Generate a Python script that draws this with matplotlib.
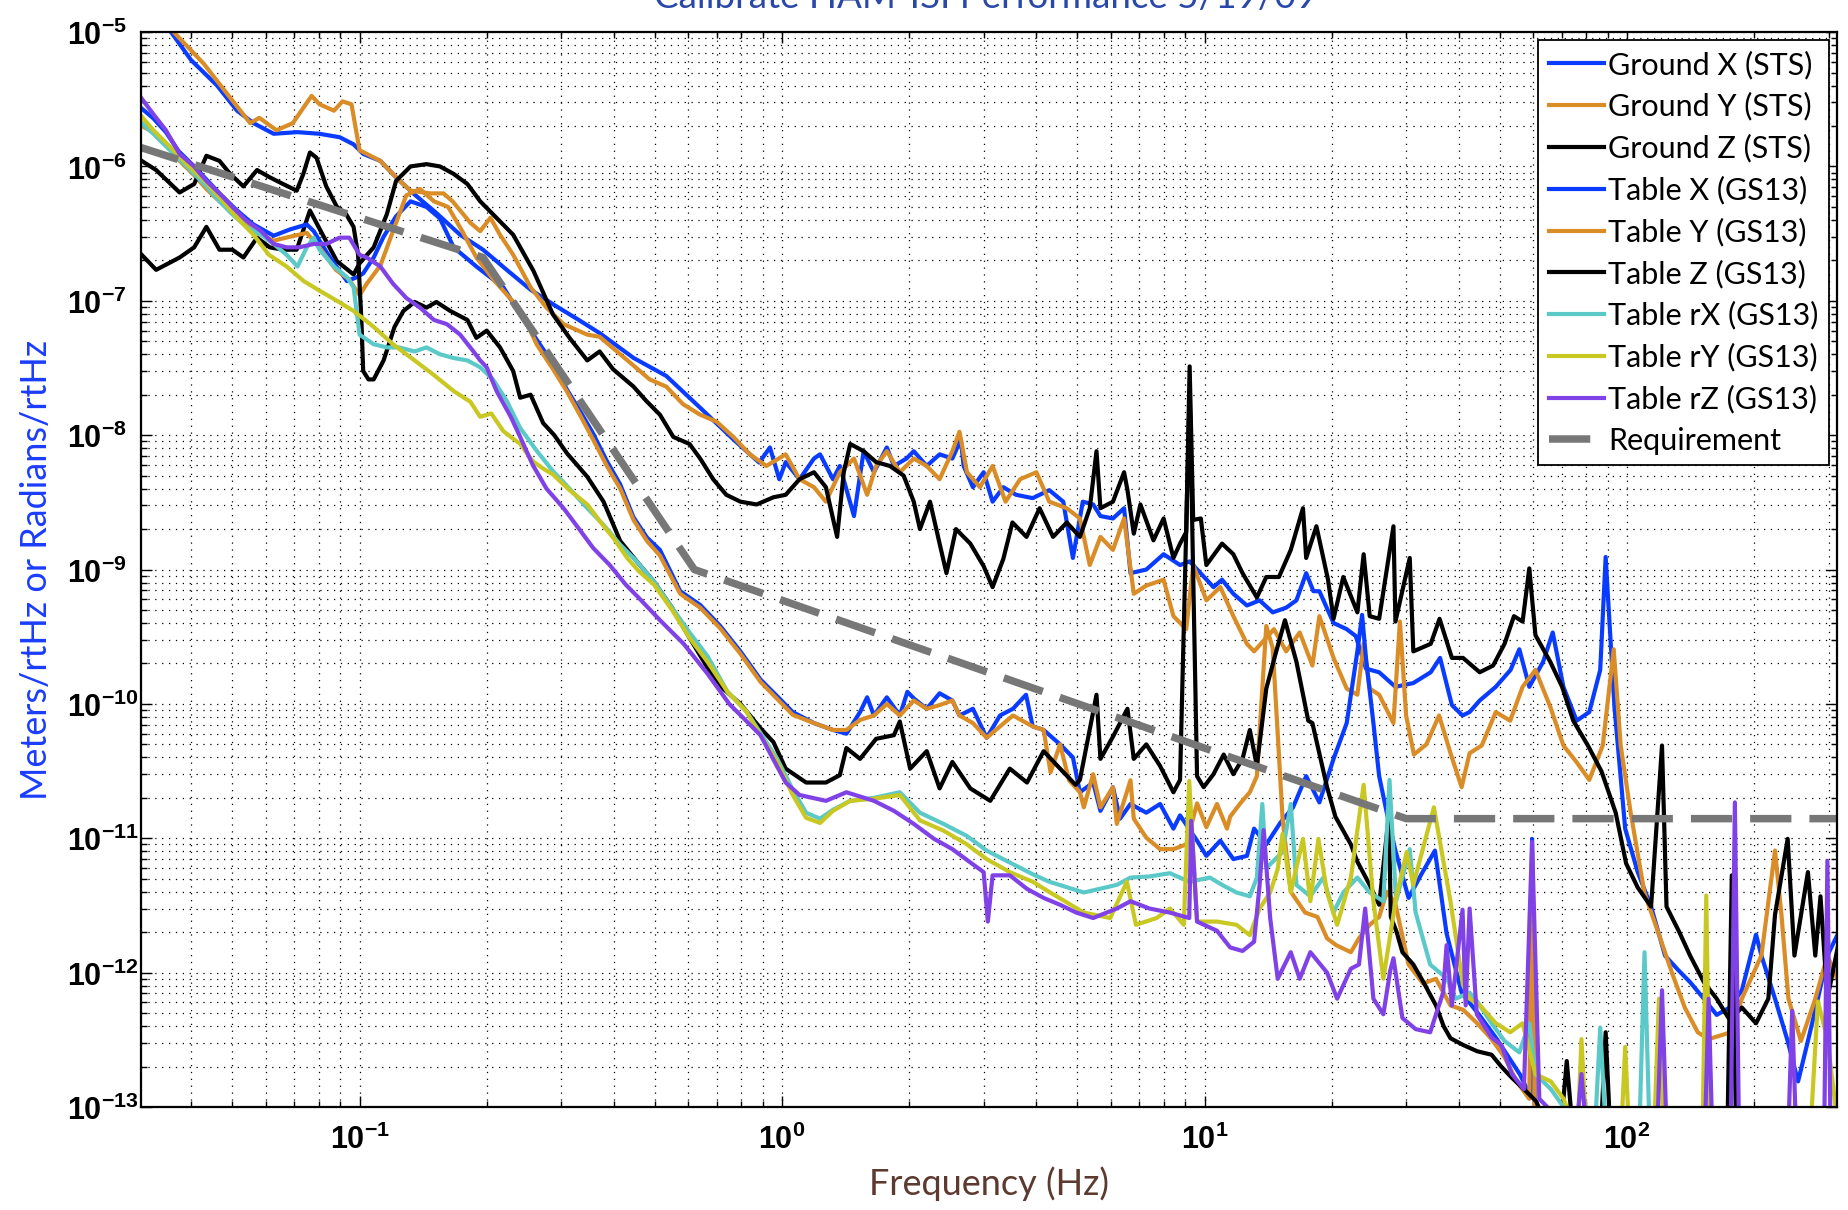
import numpy as np
import matplotlib
matplotlib.use("Agg")
import matplotlib.pyplot as plt
from matplotlib.ticker import LogLocator, FixedLocator, FuncFormatter, NullFormatter

# (frequency [Hz], amplitude spectral density)

ground_x = [(0.0347, 1.27e-5), (0.0358, 1.0e-5), (0.0399, 6.2e-6), (0.0460, 4.0e-6), (0.0513, 2.6e-6),
            (0.0561, 2.1e-6), (0.0626, 1.75e-6), (0.0713, 1.8e-6), (0.0803, 1.75e-6), (0.0897, 1.65e-6),
            (0.0968, 1.46e-6), (0.102, 1.24e-6), (0.112, 1.1e-6), (0.122, 8.3e-7), (0.134, 6.3e-7),
            (0.152, 4.5e-7), (0.173, 3.1e-7), (0.196, 2.4e-7), (0.223, 1.7e-7), (0.254, 1.21e-7),
            (0.289, 9.3e-8), (0.328, 7.3e-8), (0.370, 5.75e-8), (0.445, 3.76e-8), (0.532, 2.76e-8),
            (0.640, 1.6e-8), (0.767, 9.3e-9), (0.883, 6.25e-9), (0.936, 8.1e-9), (0.985, 4.7e-9),
            (1.02, 6.3e-9), (1.10, 4.7e-9), (1.19, 6.7e-9), (1.23, 7.2e-9), (1.32, 4.7e-9),
            (1.37, 5.9e-9), (1.48, 2.5e-9), (1.56, 7.6e-9), (1.65, 5.3e-9), (1.77, 8.1e-9),
            (1.84, 5.9e-9), (1.97, 6.7e-9), (2.05, 7.6e-9), (2.20, 5.9e-9), (2.36, 7.2e-9),
            (2.53, 6.7e-9), (2.65, 9.3e-9), (2.69, 5.9e-9), (2.83, 4.1e-9), (3.0, 5.3e-9),
            (3.15, 3.2e-9), (3.34, 4.1e-9), (3.58, 3.6e-9), (3.92, 3.4e-9), (4.29, 3.9e-9),
            (4.63, 3.2e-9), (4.88, 1.22e-9), (5.15, 3.2e-9), (5.45, 3.05e-9), (5.67, 2.5e-9),
            (6.07, 2.4e-9), (6.45, 2.86e-9), (6.68, 9.4e-10), (7.28, 1.0e-9), (8.0, 1.3e-9),
            (8.75, 1.08e-9), (9.22, 1.15e-9), (10.5, 7.4e-10), (11.0, 8.4e-10), (11.7, 6.6e-10),
            (12.6, 5.4e-10), (13.5, 5.9e-10), (14.5, 4.8e-10), (15.6, 5.2e-10), (16.5, 5.9e-10),
            (17.4, 9.4e-10), (18.1, 6.9e-10), (18.7, 6.9e-10), (20.2, 4.0e-10), (21.7, 3.6e-10),
            (22.8, 3.2e-10), (24.1, 1.83e-10), (25.9, 1.72e-10), (28.3, 1.34e-10), (31.2, 1.43e-10),
            (34.3, 1.72e-10), (36.1, 2.2e-10), (38.5, 9.8e-11), (40.8, 8.2e-11), (42.4, 8.7e-11),
            (44.8, 1.06e-10), (48.9, 1.34e-10), (53.0, 1.79e-10), (55.6, 2.55e-10), (58.7, 1.34e-10),
            (63.3, 2.06e-10), (66.7, 3.4e-10), (70.7, 1.34e-10), (76.0, 7.5e-11), (81.4, 8.7e-11),
            (86.4, 1.79e-10), (89.0, 1.24e-9), (93.4, 9.4e-11), (99.0, 1.18e-11), (106, 5.6e-12),
            (114, 3.1e-12), (123, 1.34e-12), (132, 1.05e-12), (141, 8.5e-13), (152, 6.4e-13),
            (163, 4.85e-13), (175, 5.5e-13), (187, 7.4e-13), (202, 1.92e-12), (208, 1.34e-12),
            (224, 6.4e-13), (240, 3.1e-13), (254, 1.55e-13), (268, 3.1e-13), (283, 6.4e-13),
            (298, 1.34e-12), (316, 1.96e-12)]

ground_y = [(0.0347, 1.27e-5), (0.0363, 1.0e-5), (0.0428, 5.8e-6), (0.0492, 3.3e-6), (0.0551, 2.1e-6),
            (0.0579, 2.3e-6), (0.0636, 1.86e-6), (0.0695, 2.1e-6), (0.0770, 3.35e-6), (0.0804, 2.9e-6),
            (0.0870, 2.6e-6), (0.0911, 3.05e-6), (0.0957, 2.9e-6), (0.100, 1.32e-6), (0.112, 1.1e-6),
            (0.122, 8.3e-7), (0.132, 6.6e-7), (0.147, 6.3e-7), (0.158, 6.3e-7), (0.166, 5.5e-7),
            (0.183, 3.8e-7), (0.193, 3.3e-7), (0.204, 4.15e-7), (0.215, 3.1e-7), (0.231, 2.2e-7),
            (0.254, 1.26e-7), (0.277, 8.9e-8), (0.304, 6.7e-8), (0.346, 5.6e-8), (0.370, 5.4e-8),
            (0.445, 3.3e-8), (0.486, 2.6e-8), (0.532, 2.3e-8), (0.583, 1.7e-8), (0.640, 1.42e-8),
            (0.700, 1.26e-8), (0.767, 9.7e-9), (0.839, 7.2e-9), (0.918, 5.9e-9), (1.02, 7.2e-9),
            (1.10, 4.7e-9), (1.19, 4.1e-9), (1.27, 3.2e-9), (1.37, 5.3e-9), (1.48, 6.7e-9),
            (1.59, 3.6e-9), (1.67, 5.9e-9), (1.77, 7.6e-9), (1.90, 5.3e-9), (2.05, 6.7e-9),
            (2.20, 5.9e-9), (2.36, 4.7e-9), (2.53, 7.6e-9), (2.63, 1.06e-8), (2.74, 5.3e-9),
            (2.94, 4.1e-9), (3.15, 5.9e-9), (3.38, 3.2e-9), (3.66, 4.7e-9), (4.00, 5.3e-9),
            (4.29, 3.2e-9), (4.72, 2.86e-9), (5.07, 2.4e-9), (5.35, 1.08e-9), (5.67, 1.75e-9),
            (6.07, 1.4e-9), (6.45, 2.4e-9), (6.8, 6.6e-10), (7.28, 7.6e-10), (8.0, 8.4e-10),
            (8.44, 4.5e-10), (9.05, 3.6e-10), (9.4, 1.08e-9), (10.1, 5.9e-10), (10.9, 7.4e-10),
            (11.7, 4.5e-10), (12.6, 2.8e-10), (13.1, 2.46e-10), (14.6, 3.6e-10), (15.6, 2.46e-10),
            (16.8, 3.4e-10), (18.0, 1.93e-10), (18.7, 4.5e-10), (20.2, 2.2e-10), (21.7, 1.3e-10),
            (23.0, 1.17e-10), (23.8, 2.8e-10), (24.6, 1.3e-10), (25.9, 1.17e-10), (28.0, 7.2e-11),
            (29.0, 4.1e-10), (30.0, 8.2e-11), (31.3, 4.2e-11), (33.5, 5.0e-11), (35.9, 8.2e-11),
            (38.3, 4.2e-11), (40.6, 2.4e-11), (42.4, 4.3e-11), (45.3, 4.9e-11), (48.9, 8.7e-11),
            (52.9, 7.5e-11), (56.6, 1.34e-10), (60.7, 1.79e-10), (65.9, 9.4e-11), (70.7, 4.9e-11),
            (75.9, 3.7e-11), (81.4, 2.72e-11), (87.6, 4.9e-11), (93.0, 2.55e-10), (96.6, 4.9e-11),
            (102, 1.55e-11), (110, 3.9e-12), (119, 1.92e-12), (128, 9.8e-13), (137, 5.5e-13),
            (147, 3.6e-13), (156, 3.2e-13), (176, 3.6e-13), (187, 6.4e-13), (208, 1.34e-12),
            (224, 8.1e-12), (232, 2.7e-12), (241, 6.4e-13), (258, 3.1e-13), (279, 6.4e-13),
            (298, 1.34e-12), (316, 8.7e-13)]

ground_z = [(0.0305, 2.2e-7), (0.0330, 1.7e-7), (0.0375, 2.1e-7), (0.0406, 2.5e-7), (0.0434, 3.55e-7),
            (0.0466, 2.4e-7), (0.0500, 2.4e-7), (0.0531, 2.1e-7), (0.0572, 2.95e-7), (0.0613, 2.5e-7),
            (0.0659, 2.4e-7), (0.0710, 2.4e-7), (0.0763, 4.7e-7), (0.0818, 3.1e-7), (0.0884, 1.97e-7),
            (0.0968, 1.57e-7), (0.100, 1.9e-7), (0.108, 2.5e-7), (0.116, 4.4e-7), (0.122, 7.8e-7),
            (0.132, 1.0e-6), (0.144, 1.04e-6), (0.155, 1.0e-6), (0.167, 8.8e-7), (0.180, 7.4e-7),
            (0.193, 5.5e-7), (0.207, 4.4e-7), (0.231, 3.1e-7), (0.258, 1.67e-7), (0.287, 7.9e-8),
            (0.314, 5.3e-8), (0.346, 3.6e-8), (0.370, 4.2e-8), (0.398, 3.1e-8), (0.445, 2.3e-8),
            (0.477, 1.8e-8), (0.514, 1.42e-8), (0.553, 9.7e-9), (0.604, 8.6e-9), (0.640, 6.7e-9),
            (0.687, 4.7e-9), (0.738, 3.6e-9), (0.797, 3.2e-9), (0.871, 3.05e-9), (0.954, 3.45e-9),
            (1.02, 3.6e-9), (1.10, 4.7e-9), (1.19, 5.3e-9), (1.27, 4.1e-9), (1.35, 1.75e-9),
            (1.40, 5.3e-9), (1.45, 8.6e-9), (1.56, 7.6e-9), (1.67, 6.3e-9), (1.80, 5.9e-9),
            (1.94, 5.0e-9), (2.05, 3.2e-9), (2.12, 2.0e-9), (2.24, 3.2e-9), (2.36, 1.56e-9),
            (2.45, 9.4e-10), (2.58, 2.0e-9), (2.79, 1.56e-9), (3.0, 1.06e-9), (3.15, 7.4e-10),
            (3.34, 1.2e-9), (3.51, 2.24e-9), (3.79, 1.75e-9), (4.07, 2.86e-9), (4.38, 1.75e-9),
            (4.72, 2.24e-9), (5.07, 1.75e-9), (5.35, 2.86e-9), (5.55, 7.6e-9), (5.67, 2.86e-9),
            (6.07, 3.2e-9), (6.45, 5.3e-9), (6.57, 3.9e-9), (6.8, 1.85e-9), (7.05, 3.05e-9),
            (7.57, 1.65e-9), (8.0, 2.4e-9), (8.44, 1.22e-9), (8.75, 1.56e-9), (9.05, 1.9e-9),
            (9.22, 3.25e-8), (9.4, 2.34e-9), (9.8, 2.4e-9), (10.1, 1.08e-9), (11.0, 1.56e-9),
            (11.7, 1.3e-9), (12.3, 9.4e-10), (13.3, 6.2e-10), (14.0, 8.8e-10), (15.0, 8.8e-10),
            (16.0, 1.4e-9), (17.1, 2.86e-9), (17.4, 1.22e-9), (18.4, 2.1e-9), (19.6, 8.4e-10),
            (20.2, 4.3e-10), (21.3, 8.8e-10), (23.0, 4.8e-10), (23.8, 1.3e-9), (24.6, 4.5e-10),
            (25.9, 4.3e-10), (28.0, 2.1e-9), (28.3, 4.1e-10), (30.6, 1.22e-9), (31.2, 2.46e-10),
            (34.3, 2.8e-10), (36.0, 4.3e-10), (38.5, 2.2e-10), (40.9, 2.2e-10), (44.8, 1.72e-10),
            (48.2, 1.93e-10), (51.3, 2.8e-10), (54.0, 4.5e-10), (56.6, 4.1e-10), (58.7, 1.02e-9),
            (60.7, 3.25e-10), (65.8, 2.06e-10), (70.2, 1.34e-10), (74.6, 7.5e-11), (80.8, 4.9e-11),
            (87.0, 3.15e-11), (94.0, 1.55e-11), (99.5, 6.5e-12), (106, 4.3e-12), (114, 3.1e-12),
            (121, 4.9e-11), (124, 3.1e-12), (133, 2.0e-12), (141, 1.34e-12), (152, 8.5e-13),
            (163, 6.4e-13), (175, 4.45e-13), (187, 5.5e-13), (202, 4.2e-13), (216, 6.4e-13),
            (224, 2.7e-12), (240, 9.9e-12), (249, 1.34e-12), (268, 5.6e-12), (279, 1.34e-12),
            (287, 3.7e-12), (298, 6.4e-13), (316, 1.6e-12)]

table_x = [(0.0305, 2.7e-6), (0.0325, 2.28e-6), (0.0348, 1.8e-6), (0.0373, 1.3e-6), (0.0406, 1.0e-6),
           (0.0434, 8.0e-7), (0.0466, 6.3e-7), (0.0509, 4.8e-7), (0.0561, 3.7e-7), (0.0626, 3.05e-7),
           (0.0685, 3.4e-7), (0.0750, 3.7e-7), (0.0779, 3.3e-7), (0.0804, 2.8e-7), (0.0851, 2.1e-7),
           (0.0934, 1.4e-7), (0.0986, 1.5e-7), (0.102, 1.6e-7), (0.108, 2.1e-7), (0.114, 3.0e-7),
           (0.122, 4.25e-7), (0.132, 5.5e-7), (0.144, 5.0e-7), (0.155, 4.1e-7), (0.167, 2.5e-7),
           (0.189, 1.8e-7), (0.219, 1.26e-7), (0.240, 7.9e-8), (0.263, 5.1e-8), (0.287, 3.4e-8),
           (0.310, 2.17e-8), (0.333, 1.5e-8), (0.357, 1.03e-8), (0.385, 6.4e-9), (0.414, 4.3e-9),
           (0.445, 2.45e-9), (0.479, 1.73e-9), (0.514, 1.4e-9), (0.574, 6.9e-10), (0.640, 5.45e-10),
           (0.714, 3.8e-10), (0.797, 2.46e-10), (0.889, 1.52e-10), (0.985, 1.1e-10), (1.06, 8.7e-11),
           (1.19, 7.2e-11), (1.32, 6.4e-11), (1.42, 6.0e-11), (1.53, 8.7e-11), (1.59, 1.12e-10),
           (1.65, 8.2e-11), (1.77, 1.12e-10), (1.90, 8.2e-11), (1.98, 1.23e-10), (2.05, 1.1e-10),
           (2.20, 9.2e-11), (2.36, 1.2e-10), (2.53, 1.06e-10), (2.63, 8.2e-11), (2.83, 9.2e-11),
           (3.05, 5.6e-11), (3.28, 8.2e-11), (3.52, 9.2e-11), (3.78, 1.17e-10), (3.92, 6.8e-11),
           (4.16, 6.4e-11), (4.55, 5.0e-11), (4.88, 4.0e-11), (5.07, 2.2e-11), (5.45, 2.6e-11),
           (5.67, 1.6e-11), (6.07, 2.4e-11), (6.31, 1.4e-11), (6.68, 1.8e-11), (7.28, 1.55e-11),
           (7.85, 1.8e-11), (8.44, 1.18e-11), (8.75, 1.48e-11), (9.6, 9.6e-12), (10.1, 7.4e-12),
           (10.9, 9.6e-12), (11.7, 7.0e-12), (12.6, 7.4e-12), (13.1, 1.18e-11), (14.0, 9.0e-12),
           (15.1, 1.3e-11), (16.2, 1.7e-11), (17.4, 2.9e-11), (18.7, 1.85e-11), (20.2, 3.9e-11),
           (21.7, 7.2e-11), (23.0, 2.46e-10), (23.6, 4.6e-10), (24.1, 2.2e-10), (25.1, 7.2e-11),
           (25.9, 2.9e-11), (27.0, 1.55e-11), (28.3, 8.1e-12), (30.4, 3.6e-12), (32.6, 5.4e-12),
           (35.1, 8.1e-12), (37.4, 1.96e-12), (40.6, 7.1e-13), (44.9, 4.75e-13), (49.2, 3.2e-13),
           (55.9, 1.73e-13), (59.0, 1.2e-13), (59.6, 9.9e-12), (60.5, 1.0e-13), (66, 7e-14),
           (113, 6e-14), (316, 6e-14)]

table_y = [(0.0305, 2.0e-6), (0.0325, 1.8e-6), (0.0348, 1.46e-6), (0.0373, 1.12e-6), (0.0406, 8.6e-7),
           (0.0434, 6.8e-7), (0.0466, 5.5e-7), (0.0509, 4.5e-7), (0.0561, 3.3e-7), (0.0626, 2.8e-7),
           (0.0685, 3.0e-7), (0.0750, 3.2e-7), (0.0806, 2.46e-7), (0.0879, 1.7e-7), (0.0943, 1.45e-7),
           (0.100, 1.1e-7), (0.104, 1.34e-7), (0.112, 1.83e-7), (0.120, 3.3e-7), (0.129, 6.1e-7),
           (0.139, 6.8e-7), (0.150, 5.5e-7), (0.162, 5.0e-7), (0.175, 3.3e-7), (0.189, 2.1e-7),
           (0.209, 1.4e-7), (0.240, 8.6e-8), (0.263, 4.7e-8), (0.287, 3.1e-8), (0.310, 2.1e-8),
           (0.333, 1.4e-8), (0.357, 9.3e-9), (0.385, 5.9e-9), (0.414, 4.0e-9), (0.445, 2.34e-9),
           (0.479, 1.63e-9), (0.514, 1.27e-9), (0.574, 6.6e-10), (0.640, 5.2e-10), (0.714, 3.65e-10),
           (0.797, 2.36e-10), (0.889, 1.46e-10), (0.985, 1.05e-10), (1.06, 8.3e-11), (1.19, 7.2e-11),
           (1.32, 6.4e-11), (1.42, 6.4e-11), (1.53, 7.6e-11), (1.65, 8.2e-11), (1.77, 1.0e-10),
           (1.90, 8.2e-11), (2.05, 1.06e-10), (2.20, 9.2e-11), (2.36, 9.8e-11), (2.53, 1.06e-10),
           (2.63, 8.2e-11), (2.83, 7.2e-11), (3.05, 5.6e-11), (3.28, 6.8e-11), (3.52, 8.2e-11),
           (3.92, 6.8e-11), (4.16, 6.4e-11), (4.32, 3.1e-11), (4.55, 5.0e-11), (4.78, 2.7e-11),
           (5.07, 2.2e-11), (5.18, 1.7e-11), (5.45, 3.0e-11), (5.67, 1.7e-11), (6.07, 2.4e-11),
           (6.2, 1.28e-11), (6.68, 2.7e-11), (6.8, 1.4e-11), (7.28, 1.01e-11), (7.85, 8.3e-12),
           (8.44, 8.3e-12), (9.05, 9.0e-12), (9.6, 1.82e-11), (10.1, 1.21e-11), (10.7, 1.8e-11),
           (11.3, 1.18e-11), (11.5, 1.45e-11), (12.2, 1.85e-11), (12.8, 2.2e-11), (13.3, 2.9e-11),
           (13.6, 9.0e-11), (14.0, 3.8e-10), (14.5, 2.6e-10), (14.9, 6.0e-11), (15.3, 1.4e-11),
           (16.0, 4.0e-12), (17.3, 2.8e-12), (18.5, 2.6e-12), (19.5, 1.8e-12), (20.5, 1.6e-12),
           (22.2, 1.42e-12), (23.2, 1.8e-12), (24.6, 2.27e-12), (25.9, 2.6e-12), (27.0, 4.0e-12),
           (28.3, 3.25e-12), (30.4, 1.15e-12), (32.9, 8.3e-13), (35.3, 9.0e-13), (38.2, 5.7e-13),
           (40.9, 5.3e-13), (44.2, 4.2e-13), (47.8, 3.2e-13), (51.3, 2.35e-13), (54.8, 1.55e-13),
           (58.7, 1.15e-13), (59.6, 7.8e-12), (60.5, 8.5e-14), (113, 6.5e-14), (316, 6.5e-14)]

table_z = [(0.0305, 1.1e-6), (0.0330, 9.4e-7), (0.0375, 6.4e-7), (0.0406, 7.4e-7), (0.0434, 1.2e-6),
           (0.0466, 1.1e-6), (0.0494, 8.8e-7), (0.0531, 7.1e-7), (0.0572, 9.4e-7), (0.0613, 8.3e-7),
           (0.0659, 7.4e-7), (0.0710, 6.6e-7), (0.0736, 8.8e-7), (0.0763, 1.27e-6), (0.0791, 1.16e-6),
           (0.0834, 7.1e-7), (0.0884, 5.0e-7), (0.0930, 4.4e-7), (0.0968, 3.55e-7), (0.0992, 2.2e-7),
           (0.101, 7.2e-8), (0.102, 3.0e-8), (0.105, 2.6e-8), (0.108, 2.6e-8), (0.114, 3.6e-8),
           (0.121, 6.4e-8), (0.127, 8.4e-8), (0.135, 9.8e-8), (0.144, 8.9e-8), (0.152, 9.8e-8),
           (0.164, 8.4e-8), (0.180, 7.2e-8), (0.189, 5.3e-8), (0.200, 6.0e-8), (0.215, 4.5e-8),
           (0.231, 3.0e-8), (0.240, 1.9e-8), (0.254, 2.0e-8), (0.272, 1.23e-8), (0.289, 1.0e-8),
           (0.310, 7.3e-9), (0.346, 4.9e-9), (0.378, 3.2e-9), (0.414, 1.63e-9), (0.453, 1.15e-9),
           (0.498, 8.1e-10), (0.549, 5.2e-10), (0.604, 3.1e-10), (0.666, 1.86e-10), (0.725, 1.3e-10),
           (0.797, 1.0e-10), (0.889, 6.6e-11), (0.954, 5.2e-11), (1.02, 3.3e-11), (1.14, 2.6e-11),
           (1.27, 2.6e-11), (1.37, 2.95e-11), (1.42, 4.7e-11), (1.53, 3.9e-11), (1.67, 5.5e-11),
           (1.84, 5.85e-11), (1.90, 7.4e-11), (2.01, 3.3e-11), (2.20, 4.45e-11), (2.36, 2.35e-11),
           (2.53, 3.7e-11), (2.79, 2.35e-11), (3.11, 1.9e-11), (3.46, 3.3e-11), (3.80, 2.6e-11),
           (4.16, 4.45e-11), (4.55, 3.3e-11), (4.95, 2.5e-11), (5.07, 2.72e-11), (5.55, 1.17e-10),
           (5.67, 3.9e-11), (6.07, 5.7e-11), (6.57, 9.2e-11), (6.8, 3.9e-11), (7.28, 5.0e-11),
           (7.85, 3.45e-11), (8.44, 2.2e-11), (8.75, 2.72e-11), (9.22, 2.17e-8), (9.6, 2.9e-11),
           (9.95, 2.4e-11), (10.5, 3.0e-11), (11.1, 4.2e-11), (11.7, 3.0e-11), (12.3, 3.9e-11),
           (12.8, 6.4e-11), (13.3, 3.45e-11), (14.0, 1.3e-10), (14.8, 2.5e-10), (15.5, 4.2e-10),
           (16.5, 2.06e-10), (17.6, 7.5e-11), (18.0, 7.2e-11), (19.5, 2.4e-11), (20.4, 1.45e-11),
           (22.2, 9.0e-12), (23.0, 6.7e-12), (24.6, 4.5e-12), (25.9, 3.2e-12), (27.3, 1.48e-11),
           (27.6, 2.6e-12), (28.5, 2.0e-12), (29.4, 1.42e-12), (31.2, 1.15e-12), (32.9, 8.6e-13),
           (35.3, 5.7e-13), (36.8, 4.0e-13), (38.2, 3.25e-13), (40.9, 2.9e-13), (44.2, 2.6e-13),
           (47.8, 2.45e-13), (50.4, 2.0e-13), (53.4, 1.65e-13), (57.0, 1.36e-13), (61.0, 1.1e-13),
           (63.5, 8e-14), (70, 8e-14), (72, 2.2e-13), (74, 8e-14), (87, 8e-14), (89, 3.6e-13),
           (91, 8e-14), (173, 8e-14), (177, 5.3e-12), (181, 8e-14), (316, 8e-14)]

table_rx = [(0.0305, 2.1e-6), (0.0325, 1.75e-6), (0.0356, 1.32e-6), (0.0390, 1.0e-6), (0.0434, 7.1e-7),
            (0.0466, 5.5e-7), (0.0500, 4.4e-7), (0.0540, 3.55e-7), (0.0585, 3.1e-7), (0.0626, 2.65e-7),
            (0.0672, 2.2e-7), (0.0713, 1.8e-7), (0.0750, 2.5e-7), (0.0779, 2.95e-7), (0.0804, 2.4e-7),
            (0.0870, 1.8e-7), (0.0934, 1.5e-7), (0.0968, 1.26e-7), (0.100, 5.6e-8), (0.108, 4.75e-8),
            (0.116, 4.5e-8), (0.124, 4.5e-8), (0.135, 4.2e-8), (0.144, 4.5e-8), (0.155, 4.0e-8),
            (0.167, 3.75e-8), (0.180, 3.6e-8), (0.193, 3.2e-8), (0.207, 2.6e-8), (0.223, 1.8e-8),
            (0.240, 1.13e-8), (0.263, 7.6e-9), (0.287, 5.4e-9), (0.314, 4.0e-9), (0.346, 2.86e-9),
            (0.378, 2.15e-9), (0.414, 1.53e-9), (0.453, 1.15e-9), (0.498, 8.1e-10), (0.549, 5.2e-10),
            (0.604, 3.4e-10), (0.666, 2.27e-10), (0.743, 1.23e-10), (0.823, 8.8e-11), (0.896, 5.85e-11),
            (0.974, 3.9e-11), (1.06, 2.3e-11), (1.14, 1.55e-11), (1.23, 1.4e-11), (1.32, 1.63e-11),
            (1.45, 1.9e-11), (1.65, 2.0e-11), (1.90, 2.2e-11), (2.12, 1.55e-11), (2.41, 1.28e-11),
            (2.74, 1.04e-11), (3.05, 8.1e-12), (3.46, 6.6e-12), (3.92, 5.4e-12), (4.29, 4.75e-12),
            (5.18, 3.95e-12), (6.2, 4.5e-12), (6.68, 5.1e-12), (7.41, 5.2e-12), (8.28, 5.5e-12),
            (9.2, 4.75e-12), (10.3, 5.1e-12), (11.0, 4.5e-12), (11.9, 3.95e-12), (12.8, 3.7e-12),
            (13.3, 5.1e-12), (13.7, 1.8e-11), (14.0, 6.0e-12), (15.3, 7.9e-12), (16.0, 1.8e-11),
            (16.5, 4.5e-12), (17.8, 3.7e-12), (19.1, 5.1e-12), (20.2, 2.8e-12), (21.3, 3.95e-12),
            (23.0, 5.1e-12), (24.6, 3.95e-12), (26.5, 3.4e-12), (27.4, 2.72e-11), (28.4, 3.4e-12),
            (30.6, 8.3e-12), (31.6, 2.8e-12), (34.2, 1.15e-12), (37.5, 9.0e-13), (39.3, 6.4e-13),
            (42.4, 7.1e-13), (44.2, 6.1e-13), (47.8, 4.2e-13), (51.3, 3.1e-13), (55.6, 2.55e-13),
            (58.7, 4.2e-13), (60.7, 1.76e-13), (66.0, 1.36e-13), (70.8, 1.0e-13), (77, 7e-14),
            (84, 7e-14), (86.4, 3.9e-13), (89, 7e-14), (107, 7e-14), (110, 1.42e-12), (113, 7e-14),
            (316, 7e-14)]

table_ry = [(0.0305, 2.35e-6), (0.0325, 1.86e-6), (0.0356, 1.4e-6), (0.0390, 1.04e-6), (0.0430, 7.8e-7),
            (0.0466, 5.9e-7), (0.0513, 4.15e-7), (0.0561, 3.1e-7), (0.0610, 2.2e-7), (0.0672, 1.8e-7),
            (0.0738, 1.4e-7), (0.0804, 1.19e-7), (0.0884, 1.0e-7), (0.0968, 8.4e-8), (0.108, 6.4e-8),
            (0.120, 4.75e-8), (0.135, 3.6e-8), (0.150, 2.8e-8), (0.167, 2.13e-8), (0.183, 1.77e-8),
            (0.193, 1.37e-8), (0.205, 1.45e-8), (0.219, 1.07e-8), (0.240, 8.6e-9), (0.257, 6.4e-9),
            (0.273, 5.6e-9), (0.287, 5.1e-9), (0.314, 3.9e-9), (0.346, 3.05e-9), (0.370, 2.3e-9),
            (0.398, 1.73e-9), (0.430, 1.22e-9), (0.457, 9.8e-10), (0.498, 7.7e-10), (0.549, 5.0e-10),
            (0.604, 3.1e-10), (0.666, 2.06e-10), (0.743, 1.23e-10), (0.823, 8.8e-11), (0.889, 5.85e-11),
            (0.974, 3.7e-11), (1.06, 2.1e-11), (1.14, 1.42e-11), (1.23, 1.3e-11), (1.32, 1.6e-11),
            (1.45, 1.9e-11), (1.65, 1.97e-11), (1.90, 2.1e-11), (2.12, 1.36e-11), (2.41, 1.14e-11),
            (2.74, 9.0e-12), (3.05, 7.0e-12), (3.46, 5.6e-12), (3.92, 4.75e-12), (4.31, 3.95e-12),
            (5.18, 2.8e-12), (5.98, 2.55e-12), (6.55, 4.75e-12), (6.88, 2.27e-12), (7.7, 2.55e-12),
            (8.28, 3.0e-12), (8.93, 2.27e-12), (9.2, 2.67e-11), (9.6, 2.4e-12), (10.7, 2.4e-12),
            (11.9, 2.27e-12), (12.8, 1.9e-12), (13.5, 3.0e-12), (14.3, 3.95e-12), (14.9, 5.9e-12),
            (15.3, 1.08e-11), (16.0, 3.95e-12), (17.1, 9.9e-12), (17.8, 3.4e-12), (18.6, 9.9e-12),
            (19.5, 3.95e-12), (20.6, 2.27e-12), (22.2, 5.1e-12), (23.8, 2.5e-11), (25.1, 3.4e-12),
            (26.5, 9.0e-13), (28.4, 3.6e-12), (30.1, 7.9e-12), (31.2, 4.5e-12), (34.9, 1.7e-11),
            (38.2, 3.4e-12), (40.9, 8.1e-13), (42.4, 6.4e-13), (44.9, 5.7e-13), (48.9, 4.2e-13),
            (52.9, 3.6e-13), (56.6, 4.2e-13), (60.7, 1.76e-13), (66, 1.55e-13), (70.8, 1.15e-13),
            (75, 7e-14), (76.5, 7e-14), (78, 3.2e-13), (80, 7e-14), (97, 7e-14), (99, 2.8e-13),
            (101, 7e-14), (116, 7e-14), (119, 6.4e-13), (122, 7e-14), (151, 7e-14), (154, 3.75e-12),
            (157, 7e-14), (272, 7e-14), (283, 6.1e-13), (298, 3.2e-13), (316, 7e-14)]

table_rz = [(0.0305, 3.2e-6), (0.0325, 2.45e-6), (0.0348, 1.86e-6), (0.0375, 1.24e-6), (0.0406, 1.0e-6),
            (0.0434, 7.8e-7), (0.0466, 6.3e-7), (0.0500, 5.0e-7), (0.0540, 3.95e-7), (0.0585, 3.3e-7),
            (0.0626, 2.65e-7), (0.0672, 2.5e-7), (0.0720, 2.5e-7), (0.0779, 2.65e-7), (0.0834, 2.65e-7),
            (0.0897, 2.95e-7), (0.0946, 2.95e-7), (0.100, 2.2e-7), (0.104, 2.1e-7), (0.112, 1.8e-7),
            (0.120, 1.34e-7), (0.129, 1.05e-7), (0.139, 8.9e-8), (0.150, 7.2e-8), (0.161, 6.7e-8),
            (0.173, 5.6e-8), (0.186, 4.2e-8), (0.193, 3.6e-8), (0.200, 3.2e-8), (0.211, 2.13e-8),
            (0.228, 1.37e-8), (0.240, 9.7e-9), (0.257, 6.0e-9), (0.277, 4.0e-9), (0.304, 2.86e-9),
            (0.333, 1.95e-9), (0.357, 1.45e-9), (0.391, 1.08e-9), (0.427, 7.7e-10), (0.457, 6.2e-10),
            (0.514, 4.2e-10), (0.585, 2.8e-10), (0.666, 1.68e-10), (0.750, 1.0e-10), (0.889, 5.85e-11),
            (1.02, 2.6e-11), (1.10, 2.1e-11), (1.27, 1.9e-11), (1.42, 2.2e-11), (1.65, 1.9e-11),
            (1.84, 1.6e-11), (2.05, 1.28e-11), (2.29, 9.9e-12), (2.53, 8.3e-12), (2.83, 6.4e-12),
            (3.0, 5.6e-12), (3.07, 2.4e-12), (3.15, 5.3e-12), (3.46, 5.3e-12), (3.80, 4.2e-12),
            (4.16, 3.6e-12), (4.55, 3.2e-12), (4.97, 2.8e-12), (5.45, 2.55e-12), (6.2, 3.0e-12),
            (6.68, 3.4e-12), (7.41, 3.0e-12), (8.28, 2.8e-12), (9.2, 2.55e-12), (9.3, 1.35e-11),
            (9.6, 2.4e-12), (10.7, 2.05e-12), (11.5, 1.54e-12), (12.3, 1.45e-12), (13.1, 1.7e-12),
            (13.5, 4.5e-12), (13.8, 1.15e-11), (14.3, 2.55e-12), (14.9, 9.0e-13), (16.0, 1.42e-12),
            (16.8, 9.0e-13), (17.8, 1.42e-12), (19.5, 1.0e-12), (20.6, 6.4e-13), (22.2, 1.07e-12),
            (23.2, 1.15e-12), (24.0, 3.0e-12), (25.1, 6.4e-13), (26.5, 4.9e-13), (27.5, 1.03e-12),
            (28.0, 1.28e-12), (29.4, 4.6e-13), (31.6, 3.8e-13), (34.2, 3.6e-13), (36.7, 7.1e-13),
            (37.4, 1.6e-12), (38.5, 5.7e-13), (40.8, 2.94e-12), (41.5, 5.7e-13), (42.4, 3.0e-12),
            (44.1, 4.9e-13), (47.8, 3.3e-13), (50.4, 2.9e-13), (53.4, 1.76e-13), (57.0, 1.36e-13),
            (59.6, 9.4e-12), (62, 1.15e-13), (66, 9.4e-14), (76, 7e-14), (78, 1.76e-13), (80, 7e-14),
            (118, 7e-14), (121, 7.4e-13), (124, 7e-14), (153, 7e-14), (156, 6.4e-13), (159, 7e-14),
            (176, 7e-14), (180, 1.85e-11), (184, 7e-14), (241, 7e-14), (246, 5.2e-13), (251, 7e-14),
            (293, 7e-14), (298, 6.8e-12), (303, 7e-14), (316, 7e-14)]

requirement = [(0.03, 1.4e-6), (0.196, 2.1e-7), (0.62, 1.0e-9), (30, 1.4e-11), (320, 1.4e-11)]

labels = ["Ground X (STS)", "Ground Y (STS)", "Ground Z (STS)",
          "Table X (GS13)", "Table Y (GS13)", "Table Z (GS13)",
          "Table rX (GS13)", "Table rY (GS13)", "Table rZ (GS13)"]
curves = [ground_x, ground_y, ground_z, table_x, table_y, table_z, table_rx, table_ry, table_rz]
colors = ["#0a3cff", "#da8c27", "#000000", "#0a3cff", "#da8c27", "#000000",
          "#5cc9c9", "#c9c823", "#8042e6"]

x_decades = [0.1, 1, 10, 100]
y_decades = [1e-13, 1e-12, 1e-11, 1e-10, 1e-9, 1e-8, 1e-7, 1e-6, 1e-5]

plt.rcParams['font.family'] = ['Lato', 'DejaVu Sans']
# helvetica-like bold tick labels
plt.rcParams['mathtext.fontset'] = 'custom'
plt.rcParams['mathtext.bf'] = 'Liberation Sans:bold'
plt.rcParams['mathtext.rm'] = 'Liberation Sans'

fig = plt.figure(figsize=(18.49, 12.10), dpi=100)
ax = fig.add_axes([0.0763, 0.0851, 0.9172, 0.8884])

for lab, pts, col in zip(labels, curves, colors):
    f, a = np.array(pts).T
    ax.plot(f, a, color=col, lw=3.0, label=lab)
f, a = np.array(requirement).T
ax.plot(f, a, color="#777777", lw=5.4, dashes=(5.5, 2.4), label="Requirement")

ax.set_xscale('log')
ax.set_yscale('log')
ax.set_xlim(0.0304, 314)
ax.set_ylim(1e-13, 1e-5)

# matlab-ish grid, ticks and box
ax.set_axisbelow(True)
ax.xaxis.set_major_locator(FixedLocator(x_decades))
ax.yaxis.set_major_locator(FixedLocator(y_decades))
ax.xaxis.set_minor_locator(LogLocator(base=10, subs=np.arange(2, 10), numticks=20))
ax.yaxis.set_minor_locator(LogLocator(base=10, subs=np.arange(2, 10), numticks=20))
ax.xaxis.set_minor_formatter(NullFormatter())
ax.yaxis.set_minor_formatter(NullFormatter())
fmt = FuncFormatter(lambda v, p: r"$\mathbf{10^{%d}}$" % int(round(np.log10(v))))
ax.xaxis.set_major_formatter(fmt)
ax.yaxis.set_major_formatter(fmt)
ax.grid(True, which='both', color='k', lw=0.9, ls=(0, (1, 4.5)))
ax.tick_params(which='both', direction='in', top=True, right=True, width=1.0)
ax.tick_params(which='major', length=8, labelsize=22)
ax.tick_params(which='minor', length=4.5)
ax.tick_params(axis='x', which='major', pad=11)
ax.tick_params(axis='y', which='major', pad=53)
for t in ax.get_yticklabels():
    t.set_horizontalalignment('left')
ax.xaxis.get_offset_text().set_visible(False)
ax.yaxis.get_offset_text().set_visible(False)
for s in ax.spines.values():
    s.set_linewidth(1.6)

ax.set_xlabel("Frequency (Hz)", fontsize=26, color="#5c3a30")
ax.xaxis.set_label_coords(0.5, -0.055)
ax.set_ylabel("Meters/rtHz or Radians/rtHz", fontsize=26, color="#1a3cff")
ax.yaxis.set_label_coords(-0.052, 0.5)

fig.text(0.533, 0.9934, "Calibrate HAM-ISI Performance 5/19/09", fontsize=26.5,
         color="#2a48a8", ha='center', va='baseline')

leg = ax.legend(loc='upper right', fontsize=22, handlelength=1.8, handletextpad=0.15,
                labelspacing=0.43, borderpad=0.35, borderaxespad=0.25,
                fancybox=False, framealpha=1, edgecolor='k')
leg.get_frame().set_linewidth(1.3)

fig.savefig("out.png", dpi=100)
